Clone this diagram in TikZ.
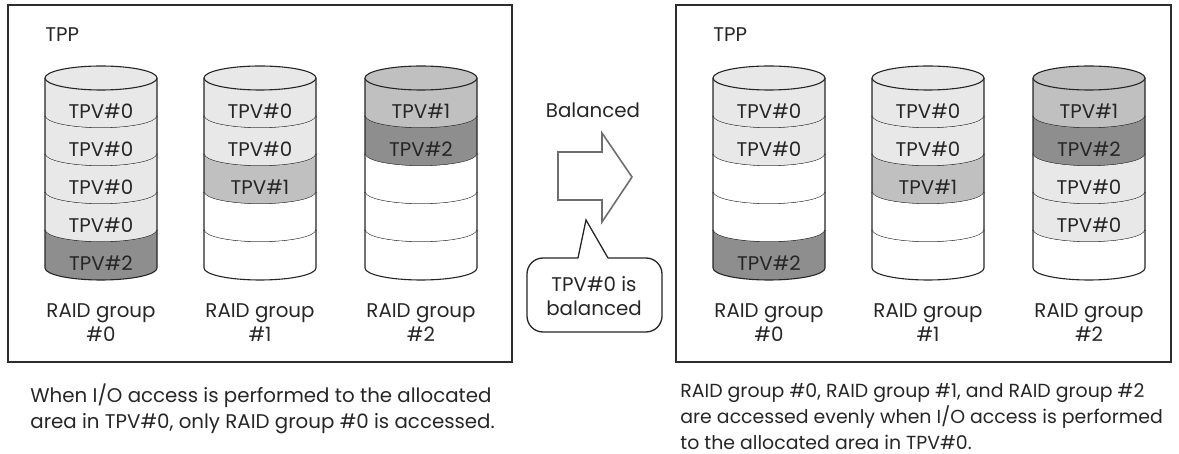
\documentclass[tikz,border=0pt]{standalone}
\usepackage{fontspec}
\setmainfont{Poppins}
\usetikzlibrary{positioning}
\definecolor{tpvzero}{RGB}{232,232,232}
\definecolor{tpvone}{RGB}{192,192,192}
\definecolor{tpvtwo}{RGB}{142,142,142}
\definecolor{framegray}{RGB}{45,45,45}
\definecolor{arrowgray}{RGB}{110,110,110}
\tikzset{
  pool/.style={
    draw=framegray,
    line width=1pt,
  },
  disk/.style={
    draw=black!85,
    line width=0.55pt,
  },
  tpvtext/.style={
    font=\fontsize{9.9}{11}\selectfont,
    text=black!85,
    inner sep=0pt,
  },
  rgtext/.style={
    font=\fontsize{9.9}{12}\selectfont,
    text=black!85,
    align=center,
  },
  caption/.style={
    font=\fontsize{9.9}{13}\selectfont,
    text=black!85,
    align=left,
    inner sep=0pt,
  },
}
% #1 centre x, #2 top colour, #3 name, #4 bands colour/text
\newcommand{\raiddisk}[4]{%
  \foreach \col/\txt [count=\k from 0] in {#4} {
    \pgfmathsetmacro{\ytop}{78+38*\k}
    \fill[\col] (#1-56,\ytop) arc[start angle=180,end angle=360,x radius=28pt,y radius=6pt]
      -- (#1+56,\ytop+38) arc[start angle=0,end angle=-180,x radius=28pt,y radius=6pt] -- cycle;
    \draw[disk] (#1-56,\ytop) -- (#1-56,\ytop+38)
      arc[start angle=180,end angle=360,x radius=28pt,y radius=6pt] -- (#1+56,\ytop);
    \node[tpvtext] (#3-\k) at (#1,\ytop+33) {\txt};
  }
  \draw[disk, fill=#2] (#1,78) ellipse[x radius=28pt, y radius=6pt];
}

\begin{document}
\begin{tikzpicture}[x=0.5pt, y=-0.5pt]
  \useasboundingbox (0,0) rectangle (1179,454);

  % Before
  \draw[pool] (8,5) rectangle (512,362);
  \node[rgtext, anchor=west, inner sep=0pt] (tpp-before) at (45,35) {TPP};
  \raiddisk{101}{tpvzero}{before-a}{tpvzero/TPV\#0, tpvzero/TPV\#0, tpvzero/TPV\#0, tpvzero/TPV\#0, tpvtwo/TPV\#2}
  \raiddisk{260}{tpvzero}{before-b}{tpvzero/TPV\#0, tpvzero/TPV\#0, tpvone/TPV\#1, white/{}, white/{}}
  \raiddisk{421}{tpvone}{before-c}{tpvone/TPV\#1, tpvtwo/TPV\#2, white/{}, white/{}, white/{}}
  \node[rgtext] (rg-before-a) at (101,323) {RAID group\\\#0};
  \node[rgtext] (rg-before-b) at (260,323) {RAID group\\\#1};
  \node[rgtext] (rg-before-c) at (421,323) {RAID group\\\#2};

  % After
  \draw[pool] (676,5) rectangle (1171,362);
  \node[rgtext, anchor=west, inner sep=0pt] (tpp-after) at (713,35) {TPP};
  \raiddisk{769}{tpvzero}{after-a}{tpvzero/TPV\#0, tpvzero/TPV\#0, white/{}, white/{}, tpvtwo/TPV\#2}
  \raiddisk{928}{tpvzero}{after-b}{tpvzero/TPV\#0, tpvzero/TPV\#0, tpvone/TPV\#1, white/{}, white/{}}
  \raiddisk{1089}{tpvone}{after-c}{tpvone/TPV\#1, tpvtwo/TPV\#2, tpvzero/TPV\#0, tpvzero/TPV\#0, white/{}}
  \node[rgtext] (rg-after-a) at (769,323) {RAID group\\\#0};
  \node[rgtext] (rg-after-b) at (928,323) {RAID group\\\#1};
  \node[rgtext] (rg-after-c) at (1089,323) {RAID group\\\#2};

  % Balanced arrow and callout
  \node[rgtext] (balanced) at (593,110) {Balanced};
  \draw[arrowgray, line width=0.8pt, line join=miter]
    (558,152) -- (602,152) -- (602,133) -- (632,177) -- (602,222) -- (602,200) -- (558,200) -- cycle;
  \draw[black!85, line width=0.65pt, fill=white, rounded corners=8pt]
    (578,258) -- (527,258) -- (527,332) -- (662,332) -- (662,258) -- (608,258);
  \draw[black!85, line width=0.65pt, line join=miter] (578,258) -- (586,220) -- (608,258);
  \node[rgtext] (callout) at (594,296) {TPV\#0 is\\balanced};

  % Captions
  \node[caption, anchor=north west] (note-before) at (30,383)
    {When I/O access is performed to the allocated\\area in TPV\#0, only RAID group \#0 is accessed.};
  \node[caption, anchor=north west, font=\fontsize{9.45}{13}\selectfont] (note-after) at (680,383)
    {RAID group \#0, RAID group \#1, and RAID group \#2\\are accessed evenly when I/O access is performed\\to the allocated area in TPV\#0.};
\end{tikzpicture}
\end{document}
